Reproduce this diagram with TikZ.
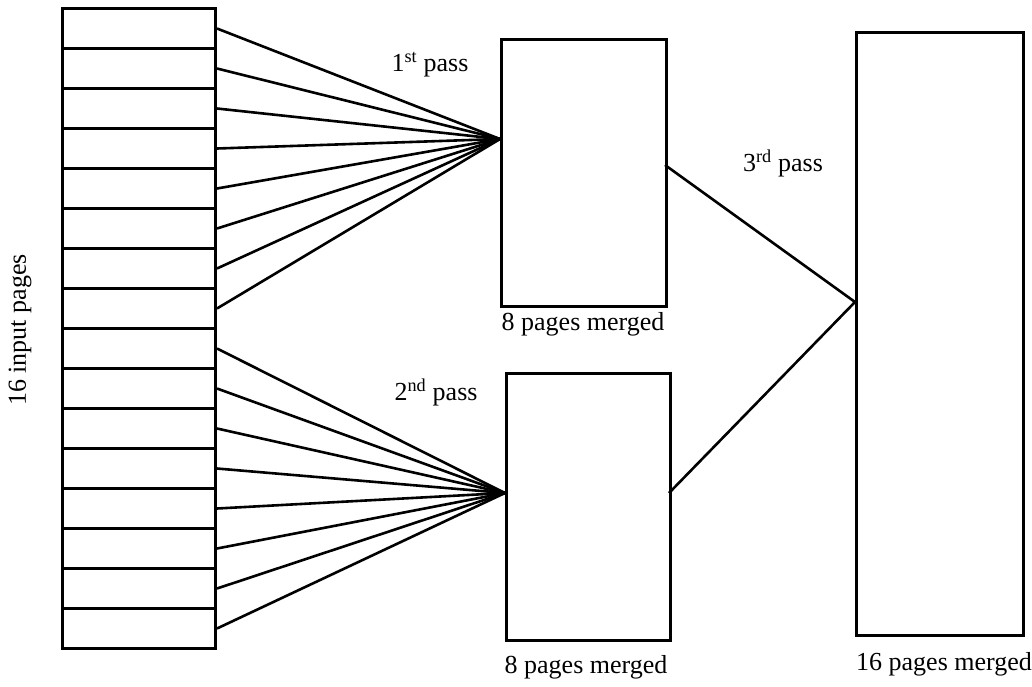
\documentclass[tikz,border=0pt]{standalone}
\usepackage{fontspec}
\setmainfont{Liberation Serif}
\begin{document}
\begin{tikzpicture}[x=1pt,y=-1pt,
  line width=3pt, line join=miter,
  pagebox/.style={draw, rectangle, inner sep=0pt, anchor=north west,
    minimum width=153pt, minimum height=40pt},
  mergebox/.style={draw, rectangle, inner sep=0pt, anchor=north west},
  lbl/.style={inner sep=0pt, font=\fontsize{26}{30}\selectfont},
  link/.style={line width=2.6pt}]
\useasboundingbox (0,0) rectangle (1032,686);

% sixteen input pages stacked in one column
\foreach \i in {1,...,16}{
  \node[pagebox] (p\i) at (61,{7+40*(\i-1)}) {};
}

% merge buffers
\node[mergebox, minimum width=165pt, minimum height=267pt] (m1) at (500,38) {};
\node[mergebox, minimum width=164pt, minimum height=267pt] (m2) at (505,372) {};
\node[mergebox, minimum width=167pt, minimum height=603pt] (r) at (855,31) {};

% points where the passes meet
\coordinate (j1) at (500,139);
\coordinate (j2) at (505,493);
\coordinate (j3) at (855,302);
\coordinate (o1) at (665,165);
\coordinate (o2) at (669,493);

% first and second passes
\foreach \i in {1,...,8}{
  \draw[link] (p\i.east) -- (j1);
}
\foreach \i in {9,...,16}{
  \draw[link] (p\i.east) -- (j2);
}
% third pass
\draw[link] (o1) -- (j3);
\draw[link] (o2) -- (j3);

% labels
\node[lbl, rotate=90] (tin) at (20,330) {16 input pages};
\node[lbl] (t1) at (430,65) {1\textsuperscript{st} pass};
\node[lbl] (t2) at (436,392) {2\textsuperscript{nd} pass};
\node[lbl] (t3) at (783,163) {3\textsuperscript{rd} pass};
\node[lbl] (tm1) at (583,324) {8 pages merged};
\node[lbl] (tm2) at (586,667) {8 pages merged};
\node[lbl] (tr) at (944,664) {16 pages merged};
\end{tikzpicture}
\end{document}
